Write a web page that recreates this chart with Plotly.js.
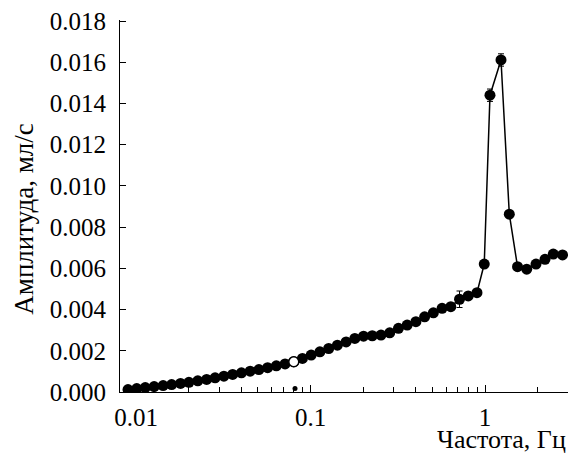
<!DOCTYPE html>
<html>
<head>
<meta charset="utf-8">
<script src="https://cdn.plot.ly/plotly-3.0.1.min.js"></script>
<style>html,body{margin:0;padding:0;background:#fff;}#chart{width:572px;height:454px;}</style>
</head>
<body>
<div id="chart"></div>
<script>
// Frequencies (Hz) and amplitudes (ml/s)
const freq = [0.0090, 0.0101, 0.0113, 0.0127, 0.0143, 0.0160, 0.0180, 0.0201, 0.0226, 0.0254,
              0.0284, 0.0319, 0.0358, 0.0402, 0.0451, 0.0506, 0.0568, 0.0637, 0.0715, 0.0802,
              0.0899, 0.1009, 0.1132, 0.1271, 0.1426, 0.1600, 0.1795, 0.2014, 0.2259, 0.2535,
              0.2844, 0.3192, 0.3581, 0.4018, 0.4508, 0.5058, 0.5675, 0.6368, 0.7145, 0.8017,
              0.8995, 0.99, 1.068, 1.235, 1.378, 1.536, 1.734, 1.960, 2.207, 2.461, 2.781];
const amp = [0.000117, 0.000165, 0.000214, 0.000263, 0.000311, 0.000360, 0.000414, 0.000470, 0.000540, 0.000610,
             0.000690, 0.000770, 0.000850, 0.000930, 0.001010, 0.001090, 0.001180, 0.001270, 0.001360, 0.001470,
             0.001630, 0.001790, 0.001950, 0.002110, 0.002270, 0.002430, 0.002600, 0.002710, 0.002730, 0.002760,
             0.002870, 0.003090, 0.003250, 0.003410, 0.003650, 0.003840, 0.004060, 0.004140, 0.004500, 0.004660,
             0.004820, 0.006210, 0.014400, 0.016110, 0.008630, 0.006080, 0.005960, 0.006210, 0.006440, 0.006690, 0.006650];
const ampErr = [0,0,0,0,0,0,0,0,0,0, 0,0,0,0,0,0,0,0,0,0, 0,0,0,0,0,0,0,0,0,0,
                0,0,0,0,0,0,0,0,0.0004,0, 0,0,0.0003,0.0003,0,0,0,0,0,0,0];
// Open (white) marker point
const openFreq = [0.0802];
const openAmp = [0.001470];
// Small stray dot near the axis
const dotFreq = [0.0815];
const dotAmp = [0.000165];

const yTicks = [0, 0.002, 0.004, 0.006, 0.008, 0.010, 0.012, 0.014, 0.016, 0.018];
const yTickText = ['0.000','0.002','0.004','0.006','0.008','0.010','0.012','0.014','0.016','0.018'];
const xTicks = [0.01, 0.1, 1];
const xTickText = ['0.01', '0.1', '1'];
const xMinor = [0.02,0.03,0.04,0.05,0.06,0.07,0.08,0.09,0.2,0.3,0.4,0.5,0.6,0.7,0.8,0.9,2,3];

const font = '"Liberation Serif", serif';

const traces = [
  {
    x: freq, y: amp, type: 'scatter', mode: 'lines+markers',
    line: {color: '#000', width: 1.5},
    marker: {color: '#000', size: 11},
    error_y: {type: 'data', array: ampErr, visible: true, color: '#000', thickness: 1, width: 3},
    showlegend: false, hoverinfo: 'skip'
  },
  {
    x: openFreq, y: openAmp, type: 'scatter', mode: 'markers',
    marker: {color: '#fff', size: 10, line: {color: '#000', width: 1.5}},
    showlegend: false, hoverinfo: 'skip'
  },
  {
    x: dotFreq, y: dotAmp, type: 'scatter', mode: 'markers',
    marker: {color: '#000', size: 5},
    showlegend: false, hoverinfo: 'skip'
  }
];

const layout = {
  width: 572, height: 454,
  margin: {l: 120, r: 4, t: 20, b: 62},
  paper_bgcolor: '#fff', plot_bgcolor: '#fff',
  font: {family: font, color: '#000', size: 25},
  xaxis: {
    type: 'log', range: [-2.0917, 0.4756],
    tickmode: 'array', tickvals: xTicks, ticktext: xTickText,
    ticks: 'inside', ticklen: 7, tickwidth: 1, tickcolor: '#000',
    minor: {tickmode: 'array', tickvals: xMinor, ticks: 'inside', ticklen: 5, tickwidth: 1, tickcolor: '#000', showgrid: false},
    showline: true, linecolor: '#000', linewidth: 1, mirror: false,
    showgrid: false, zeroline: false,
    tickfont: {family: font, size: 25, color: '#000'},
    ticklabelstandoff: 3
  },
  yaxis: {
    range: [0, 0.01805],
    tickmode: 'array', tickvals: yTicks, ticktext: yTickText,
    ticks: 'inside', ticklen: 6, tickwidth: 1, tickcolor: '#000',
    showline: true, linecolor: '#000', linewidth: 1, mirror: false,
    showgrid: false, zeroline: false,
    tickfont: {family: font, size: 25, color: '#000'},
    ticklabelstandoff: 8
  },
  annotations: [
    {text: 'Амплитуда, мл/с', xref: 'paper', yref: 'paper', x: -0.215, y: 0.465,
     xanchor: 'center', yanchor: 'middle', textangle: -90, showarrow: false,
     font: {family: font, size: 27, color: '#000'}},
    {text: 'Частота, Гц', xref: 'paper', yref: 'paper', x: 1, y: -0.128,
     xanchor: 'right', yanchor: 'middle', showarrow: false,
     font: {family: font, size: 26, color: '#000'}}
  ]
};

Plotly.newPlot('chart', traces, layout, {staticPlot: true, displayModeBar: false});
</script>
</body>
</html>
